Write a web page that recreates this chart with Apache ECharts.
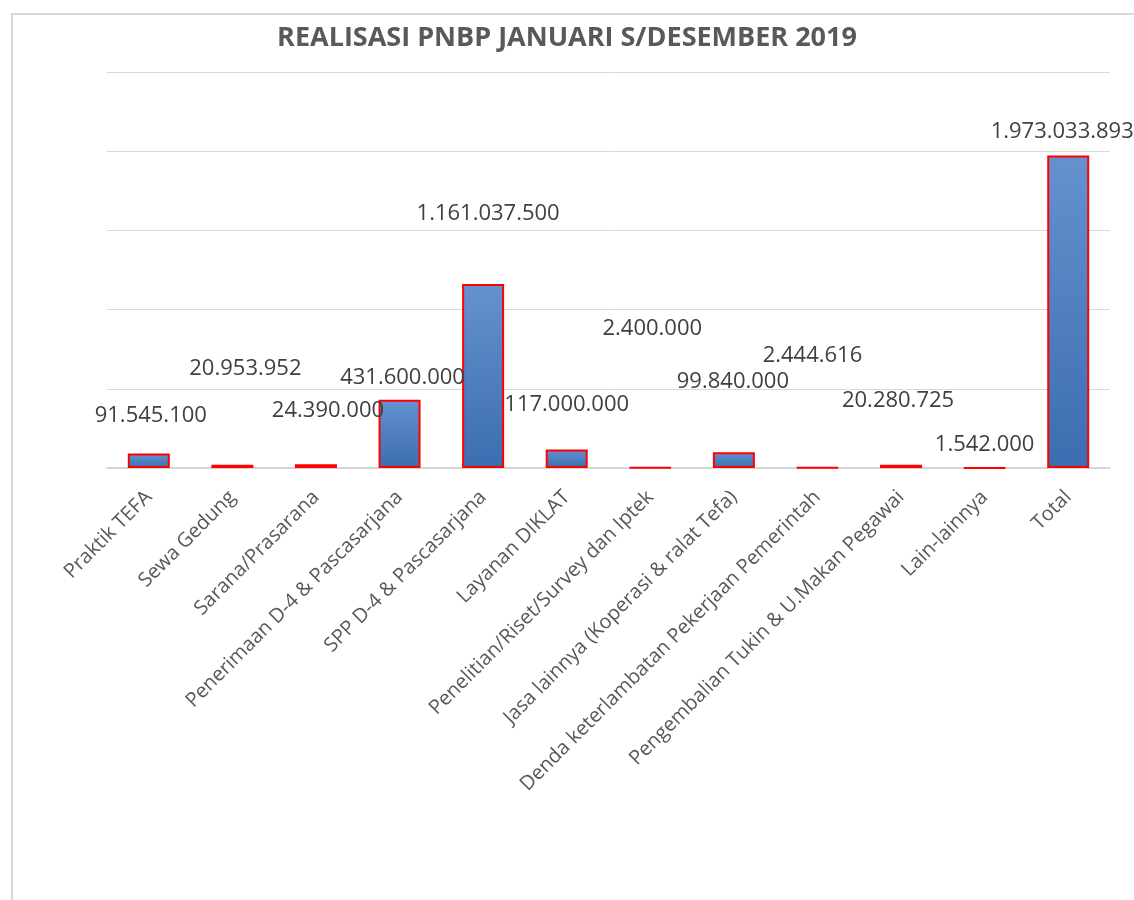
<!DOCTYPE html>
<html>
<head>
<meta charset="utf-8">
<script src="https://cdn.jsdelivr.net/npm/echarts@6/dist/echarts.min.js"></script>
<style>
  body { margin: 0; background: #fff; }
  #frame { position: absolute; left: 11px; top: 13px; width: 1140px; height: 900px;
           border-left: 2px solid #d9d9d9; border-top: 2px solid #d9d9d9; }
  #main { position: absolute; left: 0; top: 0; width: 1134px; height: 900px; }
</style>
</head>
<body>
<div id="frame"></div>
<div id="main"></div>
<script>
// kategori penerimaan
const categories = [
  'Praktik TEFA', 'Sewa Gedung', 'Sarana/Prasarana', 'Penerimaan D-4 & Pascasarjana',
  'SPP D-4 & Pascasarjana', 'Layanan DIKLAT', 'Penelitian/Riset/Survey dan Iptek',
  'Jasa lainnya (Koperasi & ralat Tefa)', 'Denda keterlambatan Pekerjaan Pemerintah',
  'Pengembalian Tukin & U.Makan Pegawai', 'Lain-lainnya', 'Total'
]
// nilai realisasi (Rp)
const values = [
  91545100, 20953952, 24390000, 431600000, 1161037500, 117000000,
  2400000, 99840000, 2444616, 20280725, 1542000, 1973033893
]
// posisi label yang digeser manual (seperti di Excel)
const labelOffsets = [
  [2, -27], [13, -85], [12, -42], [3, -11], [5, -59], [0, -34],
  [2, -127], [-1, -59], [-5, -100], [-3, -53], [0, -11], [-6, -13]
]

function fmt(v) {
  return String(v).replace(/\B(?=(\d{3})+(?!\d))/g, '.')
}

var myChart = echarts.init(document.getElementById('main'))

var option = {
  backgroundColor: 'transparent',
  title: {
    text: 'REALISASI PNBP JANUARI S/DESEMBER 2019',
    left: 'center',
    top: 20,
    textStyle: {
      fontFamily: 'Open Sans',
      fontWeight: 'bold',
      fontSize: 27,
      color: '#595959'
    }
  },
  grid: {
    left: 107,
    right: 24,
    top: 72,
    bottom: 432
  },
  xAxis: {
    type: 'category',
    data: categories,
    axisTick: { show: false },
    axisLine: { lineStyle: { color: '#d0d0d0', width: 1.5 } },
    axisLabel: {
      interval: 0,
      rotate: 45,
      margin: 26,
      fontFamily: 'Open Sans',
      fontSize: 20,
      color: '#595959'
    }
  },
  yAxis: {
    type: 'value',
    min: 0,
    max: 2500000000,
    interval: 500000000,
    axisLabel: { show: false },
    axisLine: { show: false },
    axisTick: { show: false },
    splitLine: { lineStyle: { color: '#d9d9d9', width: 1 } }
  },
  series: [
    {
      type: 'bar',
      barWidth: 42,
      data: values.map((v, i) => ({
        value: v,
        label: { offset: labelOffsets[i] }
      })),
      itemStyle: {
        color: new echarts.graphic.LinearGradient(0, 0, 0, 1, [
          { offset: 0, color: '#6592cf' },
          { offset: 1, color: '#3b6db0' }
        ]),
        borderColor: '#ff0000',
        borderWidth: 2
      },
      label: {
        show: true,
        position: 'top',
        distance: 0,
        fontFamily: 'Open Sans',
        fontSize: 22,
        color: '#404040',
        formatter: p => fmt(p.value)
      }
    }
  ]
}

myChart.setOption(option)
</script>
</body>
</html>
